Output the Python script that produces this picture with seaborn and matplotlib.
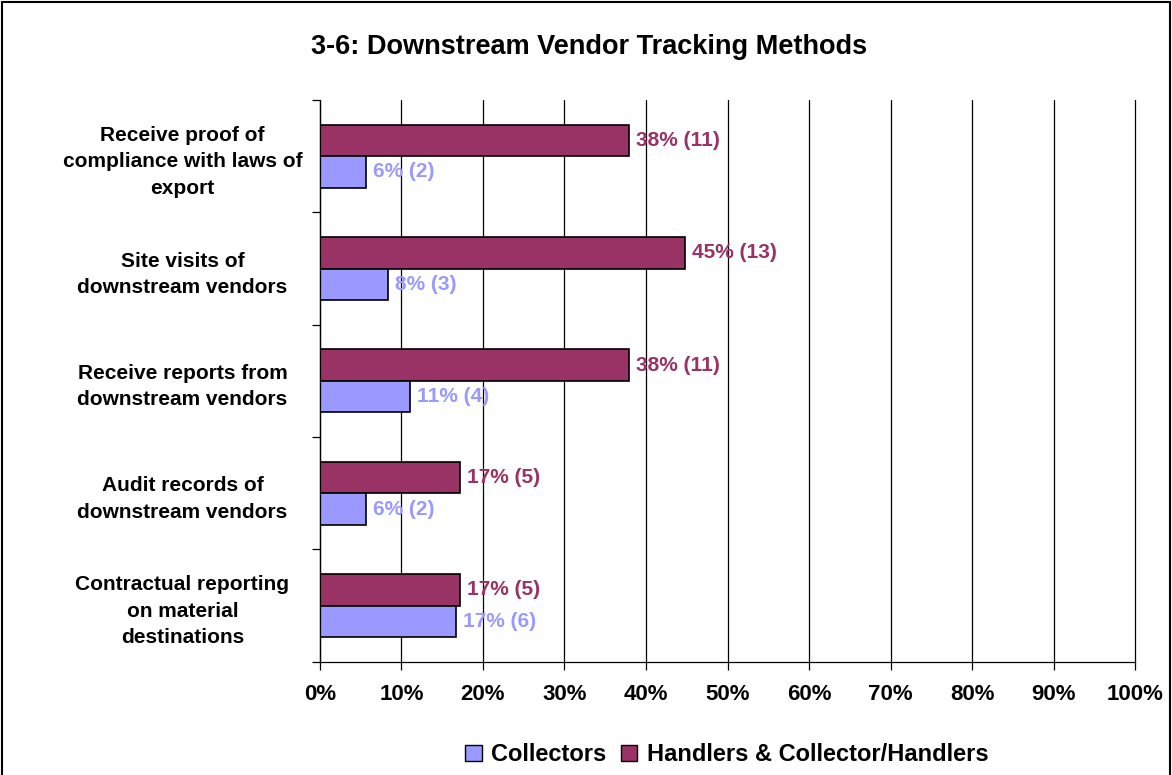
import seaborn as sns
import matplotlib.pyplot as plt
import pandas as pd
from matplotlib.ticker import MultipleLocator, PercentFormatter
from matplotlib.patches import Patch, Rectangle

categories = ['Receive proof of\ncompliance with laws of\nexport',
              'Site visits of\ndownstream vendors',
              'Receive reports from\ndownstream vendors',
              'Audit records of\ndownstream vendors',
              'Contractual reporting\non material\ndestinations']
handlers_pct = [37.9, 44.8, 37.9, 17.2, 17.2]
handlers_n = [11, 13, 11, 5, 5]
collectors_pct = [5.6, 8.3, 11.1, 5.6, 16.7]
collectors_n = [2, 3, 4, 2, 6]

series = ['Handlers & Collector/Handlers', 'Collectors']
colors = {'Handlers & Collector/Handlers': '#993366', 'Collectors': '#9999FF'}

df = pd.DataFrame({
    'method': categories * 2,
    'pct': handlers_pct + collectors_pct,
    'n': handlers_n + collectors_n,
    'group': [series[0]] * 5 + [series[1]] * 5,
})

sns.set_style('white')
plt.rcParams['font.family'] = ['Liberation Sans', 'DejaVu Sans']
plt.rcParams['font.weight'] = 'bold'
plt.rcParams['text.color'] = 'black'
plt.rcParams['xtick.color'] = 'black'
plt.rcParams['ytick.color'] = 'black'
plt.rcParams['axes.labelcolor'] = 'black'

fig = plt.figure(figsize=(11.72, 7.75), dpi=100)
ax = fig.add_axes([0.273, 0.146, 0.6955, 0.725])
sns.barplot(data=df, y='method', x='pct', hue='group', hue_order=series,
            palette=colors, saturation=1, orient='h', width=0.56, gap=0, ax=ax,
            edgecolor='black', linewidth=1.2, legend=False)

# value labels
for cont, g in zip(ax.containers, series):
    sub = df[df['group'] == g]
    labels = [f'{round(p)}% ({n})' for p, n in zip(sub['pct'], sub['n'])]
    ax.bar_label(cont, labels=labels, padding=5, color=colors[g],
                 fontsize=15, fontweight='bold')

ax.set_xlim(0, 100)
ax.set_ylim(4.5, -0.5)
ax.xaxis.set_major_locator(MultipleLocator(10))
ax.xaxis.set_major_formatter(PercentFormatter(decimals=0))
ax.grid(axis='x', color='black', linewidth=0.9)
for gl in ax.get_xgridlines():
    gl.set_clip_on(False)
ax.set_axisbelow(True)
ax.set_xlabel('')
ax.set_ylabel('')
for s in ['top', 'right']:
    ax.spines[s].set_visible(False)
for s in ['left', 'bottom']:
    ax.spines[s].set_color('black')
    ax.spines[s].set_linewidth(0.9)
ax.tick_params(axis='x', direction='out', length=6, width=0.9, color='black',
               labelsize=16, pad=10, bottom=True)
ax.tick_params(axis='y', length=0, labelsize=15)
ax.set_yticks(range(len(categories)))
ax.set_yticklabels(categories, ha='center', fontweight='bold', linespacing=1.5)
ax.yaxis.set_tick_params(pad=99)
ax.set_yticks([i - 0.5 for i in range(len(categories) + 1)], minor=True)
ax.tick_params(axis='y', which='minor', direction='out', length=6, width=0.9,
               color='black', left=True)
for lbl in ax.get_xticklabels():
    lbl.set_fontweight('bold')

fig.text(0.503, 0.94, '3-6: Downstream Vendor Tracking Methods',
         ha='center', va='center', fontsize=19.5, fontweight='bold')

handles = [Patch(facecolor=colors['Collectors'], edgecolor='black'),
           Patch(facecolor=colors['Handlers & Collector/Handlers'], edgecolor='black')]
fig.legend(handles, ['Collectors', 'Handlers & Collector/Handlers'],
           loc='center', bbox_to_anchor=(0.62, 0.026), ncol=2, frameon=False,
           fontsize=17, handlelength=0.7, handleheight=0.7, handletextpad=0.4,
           columnspacing=0.6)

fig.patches.append(Rectangle((0.002, -0.01), 0.996, 1.007, transform=fig.transFigure,
                             fill=False, edgecolor='black', linewidth=1.5))

fig.savefig('out.png', dpi=100)
